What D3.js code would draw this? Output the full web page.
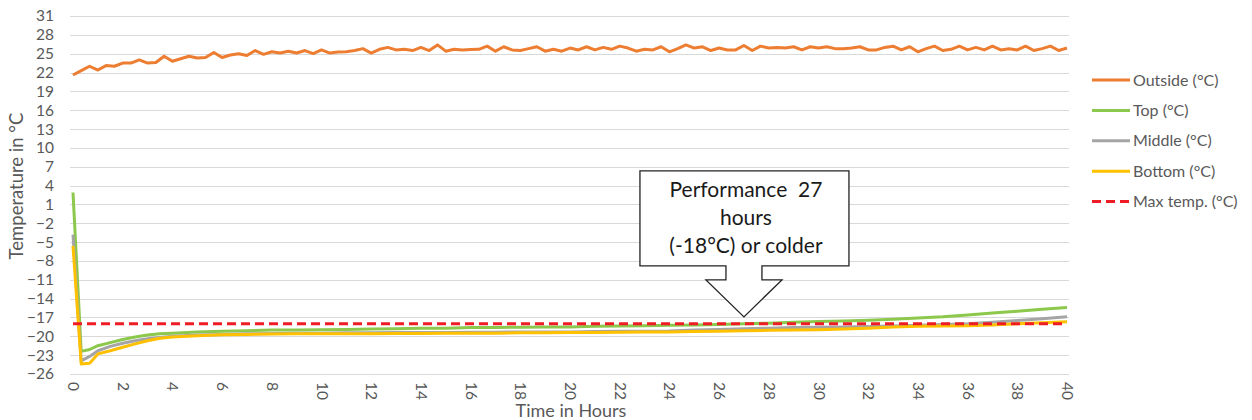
<!DOCTYPE html>
<html>
<head>
<meta charset="utf-8">
<script src="https://cdn.jsdelivr.net/npm/d3@7"></script>
<style>
    html, body { margin: 0; padding: 0; background: #fff; }
    svg text { font-family: Lato, "Open Sans", sans-serif; }
</style>
</head>
<body>
<svg id="chart" width="1252" height="420"></svg>
<script>
// Outside temperature is logged every 20 minutes
const SAMPLE_STEP_H = 1 / 3;
const outsideValues = [
    21.6, 22.3, 23.0, 22.4, 23.1, 23.0, 23.5, 23.5, 24.0, 23.5, 23.6, 24.6, 23.8, 24.2, 24.6, 24.3, 24.4, 25.2, 24.4, 24.8,
    25.0, 24.7, 25.5, 24.9, 25.3, 25.1, 25.4, 25.1, 25.5, 25.0, 25.6, 25.1, 25.25, 25.3, 25.5, 25.8, 25.1, 25.7, 26.0, 25.6,
    25.7, 25.5, 26.0, 25.5, 26.4, 25.4, 25.7, 25.6, 25.65, 25.7, 26.2, 25.4, 26.1, 25.6, 25.5, 25.8, 26.1, 25.4, 25.7, 25.4,
    25.9, 25.6, 26.1, 25.6, 26.0, 25.7, 26.2, 25.9, 25.4, 25.7, 25.6, 26.1, 25.3, 25.8, 26.4, 25.9, 26.1, 25.5, 25.9, 25.6,
    25.6, 26.3, 25.5, 26.2, 25.9, 26.0, 25.9, 26.1, 25.6, 26.1, 25.9, 26.1, 25.8, 25.8, 25.9, 26.1, 25.6, 25.6, 26.0, 26.2,
    25.6, 26.1, 25.3, 25.8, 26.2, 25.5, 25.7, 26.2, 25.6, 26.0, 25.6, 26.2, 25.6, 25.8, 25.6, 26.2, 25.5, 25.8, 26.2, 25.5,
    25.9
];
const outsideHours = outsideValues.map((v, i) => i * SAMPLE_STEP_H);

// Inside probes
const innerHours = [0, 0.33, 0.67, 1, 1.5, 2, 2.5, 3, 3.5, 4,
    5, 6, 7, 8, 9, 10, 11, 12, 13, 14, 15, 16, 17, 18, 19, 20, 21, 22,
    23, 24, 25, 26, 27, 28, 29, 30, 31, 32, 33, 34, 35, 36, 37, 38, 39, 40];
const topValues = [2.9, -22.4, -22.1, -21.5, -21.0, -20.5, -20.1, -19.8, -19.6, -19.5,
    -19.3, -19.2, -19.1, -19.0, -19.0, -18.95, -18.9, -18.85, -18.8, -18.7, -18.7, -18.6, -18.6, -18.55,
    -18.5, -18.5, -18.4, -18.35, -18.3, -18.25, -18.2, -18.1, -18.0, -17.9, -17.75, -17.65, -17.55, -17.45,
    -17.3, -17.1, -16.9, -16.6, -16.3, -16.0, -15.7, -15.4];
const middleValues = [-3.8, -23.9, -23.2, -22.3, -21.6, -21.1, -20.7, -20.4, -20.2, -20.0,
    -19.8, -19.7, -19.6, -19.55, -19.5, -19.5, -19.45, -19.45, -19.4, -19.4, -19.4, -19.35, -19.35, -19.3,
    -19.3, -19.3, -19.25, -19.2, -19.2, -19.15, -19.0, -18.9, -18.8, -18.7, -18.6, -18.55, -18.5, -18.45,
    -18.35, -18.25, -18.1, -18.0, -17.75, -17.5, -17.2, -16.9];
const bottomValues = [-5.6, -24.4, -24.3, -22.8, -22.3, -21.75, -21.2, -20.7, -20.3, -20.1,
    -19.9, -19.75, -19.7, -19.65, -19.6, -19.6, -19.6, -19.6, -19.55, -19.55, -19.5, -19.5, -19.5, -19.45,
    -19.45, -19.4, -19.4, -19.35, -19.3, -19.3, -19.25, -19.2, -19.1, -19.05, -19.0, -18.95, -18.85, -18.7,
    -18.5, -18.4, -18.35, -18.3, -18.2, -18.0, -17.85, -17.7];
const maxHours = [0, 40];
const maxValues = [-18, -18];

const xTicks = [0, 2, 4, 6, 8, 10, 12, 14, 16, 18, 20, 22, 24, 26, 28, 30, 32, 34, 36, 38, 40];
const yTicks = [-26, -23, -20, -17, -14, -11, -8, -5, -2, 1, 4, 7, 10, 13, 16, 19, 22, 25, 28, 31];

const seriesNames = ['Outside (°C)', 'Top (°C)', 'Middle (°C)', 'Bottom (°C)', 'Max temp. (°C)'];
const seriesColors = ['#ED7D31', '#8CC84B', '#A5A5A5', '#FFC000', '#EE1C24'];

const calloutLines = ['Performance  27', 'hours', '(-18°C) or colder'];
const calloutHour = 27;
const calloutTemp = -16.9;

document.addEventListener('DOMContentLoaded', function () {
    const svg = d3.select('#chart');

    const xScale = d3.scaleLinear().domain([0, 40]).range([73, 1067]);
    const yScale = d3.scaleLinear().domain([-26, 31]).range([374, 16]);

    // horizontal gridlines
    svg.append('g')
        .selectAll('line')
        .data(yTicks)
        .enter()
        .append('line')
        .attr('x1', 70)
        .attr('x2', 1069)
        .attr('y1', d => Math.round(yScale(d)) + 0.5)
        .attr('y2', d => Math.round(yScale(d)) + 0.5)
        .attr('stroke', '#d9d9d9')
        .attr('stroke-width', 1);

    // y axis labels
    const yAxis = d3.axisLeft(yScale).tickValues(yTicks).tickSize(0).tickPadding(0);
    svg.append('g')
        .attr('transform', 'translate(54,0)')
        .call(yAxis)
        .call(g => g.select('.domain').remove())
        .selectAll('text')
        .attr('fill', '#595959')
        .style('font-size', '15.5px')
        .style('font-family', 'Lato, sans-serif');

    // x axis labels, turned 90 degrees
    const xAxis = d3.axisBottom(xScale).tickValues(xTicks).tickSize(0).tickPadding(0);
    svg.append('g')
        .attr('transform', 'translate(0,382)')
        .call(xAxis)
        .call(g => g.select('.domain').remove())
        .selectAll('text')
        .attr('fill', '#595959')
        .style('font-size', '15.5px')
        .style('font-family', 'Lato, sans-serif')
        .attr('text-anchor', 'start')
        .attr('dy', '0.35em')
        .attr('y', 0)
        .attr('x', 0)
        .attr('transform', 'rotate(90)');

    // axis titles
    svg.append('text')
        .attr('x', 571)
        .attr('y', 411)
        .attr('dy', '0.35em')
        .attr('text-anchor', 'middle')
        .attr('fill', '#595959')
        .style('font-size', '18px')
        .text('Time in Hours');

    svg.append('text')
        .attr('transform', 'translate(17,186) rotate(-90)')
        .attr('dy', '0.35em')
        .attr('text-anchor', 'middle')
        .attr('fill', '#595959')
        .style('font-size', '18.5px')
        .text('Temperature in °C');

    const line = d3.line()
        .x(d => xScale(d[0]))
        .y(d => yScale(d[1]));

    const series = [
        d3.zip(outsideHours, outsideValues),
        d3.zip(innerHours, topValues),
        d3.zip(innerHours, middleValues),
        d3.zip(innerHours, bottomValues),
        d3.zip(maxHours, maxValues)
    ];

    series.forEach(function (pts, i) {
        svg.append('path')
            .datum(pts)
            .attr('d', line)
            .attr('fill', 'none')
            .attr('stroke', seriesColors[i])
            .attr('stroke-width', 3)
            .attr('stroke-linejoin', 'round')
            .attr('stroke-dasharray', i === 4 ? '9,5' : null);
    });

    // callout box with a down arrow
    const tx = xScale(calloutHour);
    const ty = yScale(calloutTemp);
    const left = tx - 104, right = tx + 105, top = ty - 146, bottom = ty - 51;
    const stemL = tx - 18, stemR = tx + 18, neck = ty - 37;
    const headL = tx - 38, headR = tx + 38;
    const calloutPath = d3.path();
    calloutPath.moveTo(left, top);
    calloutPath.lineTo(right, top);
    calloutPath.lineTo(right, bottom);
    calloutPath.lineTo(stemR, bottom);
    calloutPath.lineTo(stemR, neck);
    calloutPath.lineTo(headR, neck);
    calloutPath.lineTo(tx, ty);
    calloutPath.lineTo(headL, neck);
    calloutPath.lineTo(stemL, neck);
    calloutPath.lineTo(stemL, bottom);
    calloutPath.lineTo(left, bottom);
    calloutPath.closePath();

    svg.append('path')
        .attr('d', calloutPath.toString())
        .attr('fill', '#fff')
        .attr('stroke', '#222')
        .attr('stroke-width', 1.3)
        .attr('stroke-linejoin', 'miter');

    svg.append('g')
        .selectAll('text')
        .data(calloutLines)
        .enter()
        .append('text')
        .attr('x', tx + 2)
        .attr('y', (d, i) => ty - 127 + i * 28)
        .attr('dy', '0.35em')
        .attr('text-anchor', 'middle')
        .attr('fill', '#1a1a1a')
        .style('font-size', '21px')
        .style('white-space', 'pre')
        .text(d => d);

    // legend
    const legend = svg.append('g')
        .selectAll('g')
        .data(seriesNames)
        .enter()
        .append('g')
        .attr('transform', (d, i) => `translate(1092,${80 + i * 30.4})`);

    legend.append('line')
        .attr('x1', 0)
        .attr('x2', 38)
        .attr('stroke', (d, i) => seriesColors[i])
        .attr('stroke-width', 3)
        .attr('stroke-dasharray', (d, i) => i === 4 ? '9,5' : null);

    legend.append('text')
        .attr('x', 41)
        .attr('dy', '0.35em')
        .attr('fill', '#595959')
        .style('font-size', '16px')
        .text(d => d);
});
</script>
</body>
</html>
